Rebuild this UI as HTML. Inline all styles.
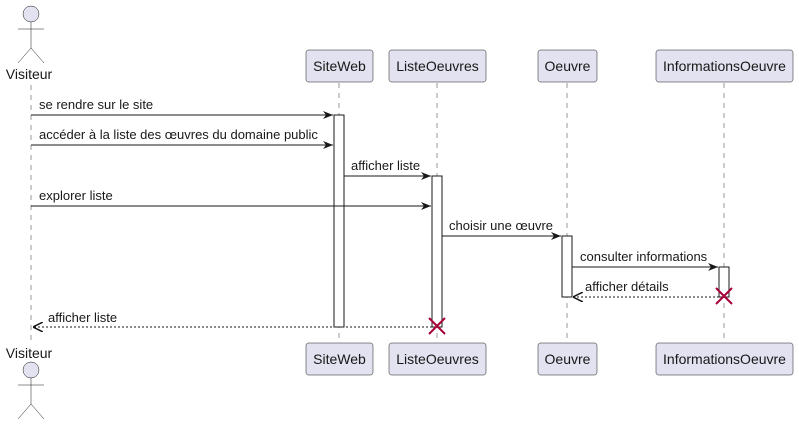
<!DOCTYPE html>
<html><head><meta charset="utf-8"><style>body{margin:0;background:#fff}svg{display:block}text{font-family:"Liberation Sans",Arial,sans-serif}</style></head><body>
<svg width="799" height="427" viewBox="0 0 799 427" xmlns="http://www.w3.org/2000/svg">
<defs>
<marker id="a" viewBox="0 0 10 10" refX="10" refY="5" markerWidth="10" markerHeight="10" markerUnits="userSpaceOnUse" orient="auto"><path d="M0,1 L10,5 L0,9 L3,5 Z" fill="#181818"/></marker>
<marker id="o" viewBox="0 0 10 10" refX="10" refY="5" markerWidth="10" markerHeight="10" markerUnits="userSpaceOnUse" orient="auto"><path d="M0,0 L10,5 L0,10" fill="none" stroke="#181818" stroke-width="1.5"/></marker>
</defs>
<g stroke="#999" stroke-dasharray="5,5" stroke-width="1">
<line x1="31" y1="85" x2="31" y2="343"/><line x1="339" y1="83" x2="339" y2="343"/><line x1="437" y1="83" x2="437" y2="343"/><line x1="567" y1="83" x2="567" y2="343"/><line x1="724" y1="83" x2="724" y2="343"/>
</g>
<g fill="#E2E2F0" stroke="#181818" stroke-width="0.5">
<rect x="306" y="50" width="67" height="32" rx="2.5"/><rect x="389" y="50" width="97" height="32" rx="2.5"/><rect x="538" y="50" width="59" height="32" rx="2.5"/><rect x="656" y="50" width="137" height="32" rx="2.5"/>
<rect x="306" y="343" width="67" height="32" rx="2.5"/><rect x="389" y="343" width="97" height="32" rx="2.5"/><rect x="538" y="343" width="59" height="32" rx="2.5"/><rect x="656" y="343" width="137" height="32" rx="2.5"/>
</g>
<g font-size="14" fill="#181818" text-anchor="middle">
<text x="339.5" y="71">SiteWeb</text><text x="437.5" y="71">ListeOeuvres</text><text x="567.5" y="71">Oeuvre</text><text x="724.5" y="71">InformationsOeuvre</text>
<text x="339.5" y="364">SiteWeb</text><text x="437.5" y="364">ListeOeuvres</text><text x="567.5" y="364">Oeuvre</text><text x="724.5" y="364">InformationsOeuvre</text>
<text x="29" y="79">Visiteur</text><text x="29" y="358">Visiteur</text>
</g>
<g fill="#E2E2F0" stroke="#181818" stroke-width="0.5">
<circle cx="31" cy="14" r="8"/><circle cx="31" cy="370" r="8"/>
</g>
<g stroke="#181818" stroke-width="0.5" fill="none">
<path d="M31,22 V48 M18,29 H44 M18,63 L31,48 L44,63"/>
<path d="M31,378 V404 M18,385 H44 M18,419 L31,404 L44,419"/>
</g>
<g fill="#fff" stroke="#181818" stroke-width="1">
<rect x="334" y="115" width="10" height="212"/><rect x="432" y="176" width="10" height="151"/><rect x="562" y="236" width="10" height="61"/><rect x="719" y="267" width="10" height="30"/>
</g>
<g stroke="#181818" stroke-width="1" fill="none">
<line x1="31" y1="115" x2="333" y2="115" marker-end="url(#a)"/>
<line x1="31" y1="145" x2="333" y2="145" marker-end="url(#a)"/>
<line x1="344" y1="176" x2="431" y2="176" marker-end="url(#a)"/>
<line x1="31" y1="206" x2="431" y2="206" marker-end="url(#a)"/>
<line x1="442" y1="236" x2="561" y2="236" marker-end="url(#a)"/>
<line x1="572" y1="267" x2="718" y2="267" marker-end="url(#a)"/>
<line x1="719" y1="297" x2="573" y2="297" stroke-dasharray="2,2" marker-end="url(#o)"/>
<line x1="432" y1="327" x2="33" y2="327" stroke-dasharray="2,2" marker-end="url(#o)"/>
</g>
<g stroke="#A80036" stroke-width="2">
<path d="M716,288 L732,304 M732,288 L716,304"/>
<path d="M429,318 L445,334 M445,318 L429,334"/>
</g>
<g font-size="13" fill="#181818">
<text x="39" y="109">se rendre sur le site</text>
<text x="39" y="139">accéder à la liste des œuvres du domaine public</text>
<text x="351" y="170">afficher liste</text>
<text x="39" y="200">explorer liste</text>
<text x="449" y="230">choisir une œuvre</text>
<text x="580" y="261">consulter informations</text>
<text x="585" y="291">afficher détails</text>
<text x="48" y="322">afficher liste</text>
</g>
</svg>
</body></html>
